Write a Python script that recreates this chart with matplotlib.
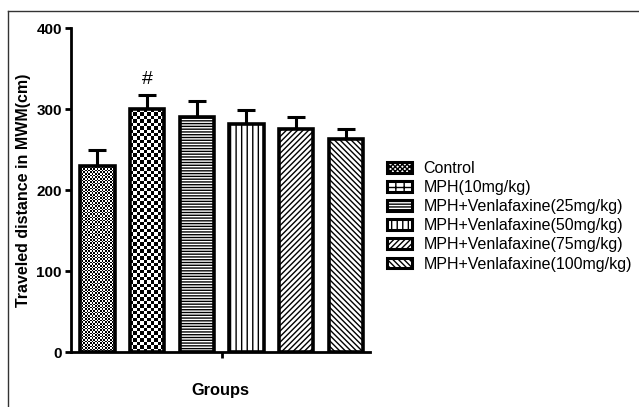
import numpy as np
import matplotlib

matplotlib.use("Agg")
import matplotlib.pyplot as plt  # noqa: E402
from matplotlib.patches import Patch  # noqa: E402
from matplotlib.lines import Line2D  # noqa: E402

plt.rcParams["font.family"] = ["Liberation Sans", "DejaVu Sans"]
plt.rcParams["hatch.linewidth"] = 1.0

groups = [
    "Control",
    "MPH(10mg/kg)",
    "MPH+Venlafaxine(25mg/kg)",
    "MPH+Venlafaxine(50mg/kg)",
    "MPH+Venlafaxine(75mg/kg)",
    "MPH+Venlafaxine(100mg/kg)",
]
means = [230, 300, 290, 281, 275, 263]
sems = [20, 17, 20, 18, 15, 12]
hatches = [None, None, "------", "|||", "//////", "\\\\\\\\\\\\"]
legend_hatches = ["xxxxxxx", "++", "------", "|||", "//////", "\\\\\\\\\\\\"]
checker_cells = [1.6, 3.4]  # checker square size in px for the first two bars

fig = plt.figure(figsize=(6.39, 4.07), dpi=100)
ax = fig.add_axes([0.111, 0.135, 0.468, 0.796])

x = np.arange(len(groups))
bars = ax.bar(x, means, width=0.69, color="white", edgecolor="black",
              linewidth=2.6, zorder=2)
for b, h in zip(bars, hatches):
    if h:
        b.set_hatch(h)
    else:
        b.set_facecolor("none")

ax.errorbar(x, means, yerr=[np.zeros(len(sems)), sems], fmt="none",
            ecolor="black", elinewidth=2.2, capsize=6.5, capthick=2.2, zorder=1)

ax.set_xlim(-0.535, 5.49)
ax.set_ylim(0, 400)

# checkerboard fills for the first two bars
fig.canvas.draw()
for b, cell in zip(bars[:2], checker_cells):
    bb = b.get_window_extent()
    nx = max(2, int(round(bb.width / cell)))
    ny = max(2, int(round(bb.height / cell)))
    board = (np.add.outer(np.arange(ny), np.arange(nx)) % 2).astype(float)
    im = ax.imshow(board, cmap="gray", vmin=0, vmax=1, interpolation="nearest",
                   extent=(b.get_x(), b.get_x() + b.get_width(), 0, b.get_height()),
                   aspect="auto", zorder=1.5)
    im.set_clip_path(b)
ax.set_xlim(-0.535, 5.49)
ax.set_ylim(0, 400)

ax.text(x[1], means[1] + sems[1] + 20, "#", ha="center", va="center",
        fontsize=14)

ax.spines["top"].set_visible(False)
ax.spines["right"].set_visible(False)
ax.spines["left"].set_linewidth(2)
ax.spines["bottom"].set_linewidth(2)
ax.set_yticks([0, 100, 200, 300, 400])
ax.set_xticks([2.5])
ax.set_xticklabels([""])
ax.tick_params(axis="both", width=2, length=4.5, pad=2)
for lab in ax.get_yticklabels():
    lab.set_fontweight("bold")
    lab.set_fontsize(11)

ax.set_ylabel("Traveled distance in MWM(cm)", fontsize=11.5, fontweight="bold")
ax.yaxis.set_label_coords(-0.135, 0.5)
ax.set_xlabel("Groups", fontsize=11.8, fontweight="bold", labelpad=16)

handles = [Patch(facecolor="white", edgecolor="black", linewidth=2.2, hatch=h)
           for h in legend_hatches]
ax.legend(handles, groups, loc="upper left", bbox_to_anchor=(1.035, 0.61),
          frameon=False, fontsize=11.5, handlelength=1.55, handleheight=0.65,
          handletextpad=0.75, labelspacing=0.26, borderaxespad=0)

# outer frame (left and top edges of the original figure border)
fig.add_artist(Line2D([0.0125, 0.0125], [0, 0.973], transform=fig.transFigure,
                      color="#333333", linewidth=1))
fig.add_artist(Line2D([0.0125, 1.0], [0.973, 0.973], transform=fig.transFigure,
                      color="#333333", linewidth=1))

fig.savefig("out.png", dpi=100)
